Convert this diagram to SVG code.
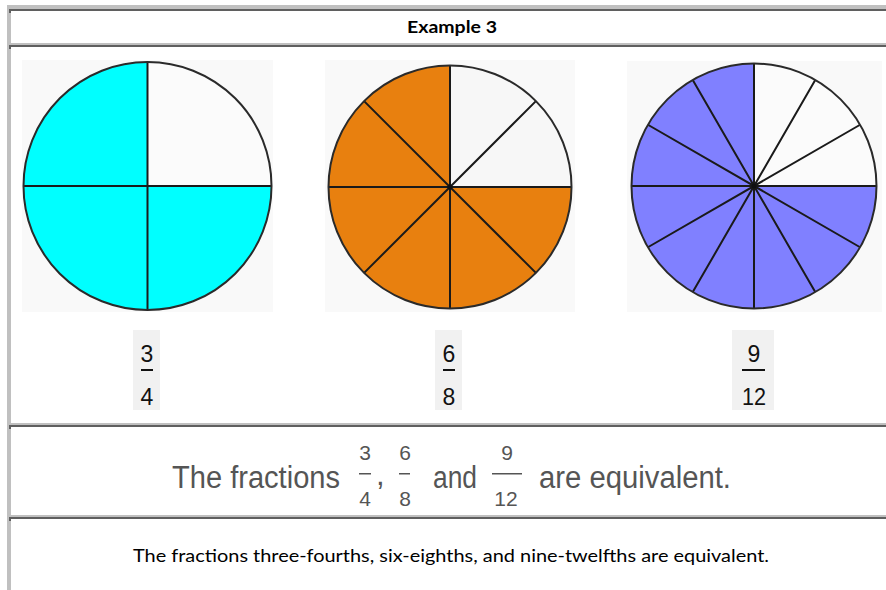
<svg xmlns="http://www.w3.org/2000/svg" width="886" height="590" viewBox="0 0 886 590">
<style>
.gray{fill:#c0c0c0}
.dark{fill:#5f5f5f}
.bg{fill:#f9f9f9}
.fbox{fill:#f1f1f1}
.ln{stroke:#1a1a1a;stroke-width:2;fill:none}
.rim{stroke:#2a2a2a;stroke-width:2;fill:none}
.title{font-family:Lato,"Open Sans","Liberation Sans",sans-serif;font-weight:bold;font-size:17px;fill:#000}
.frac{font-family:"Liberation Sans",sans-serif;font-size:23px;fill:#111}
.big{font-family:"Liberation Sans",sans-serif;font-size:31px;fill:#555}
.small{font-family:"Liberation Sans",sans-serif;font-size:21px;fill:#555}
.foot{font-family:Lato,"Open Sans","Liberation Sans",sans-serif;font-size:17.5px;fill:#000}
</style>
<rect width="886" height="590" fill="#fff"/>
<g id="table">
<rect class="gray" x="7" y="5" width="879" height="4"/>
<rect class="gray" x="7" y="5" width="4" height="585"/>
<rect class="dark" x="9" y="9" width="877" height="2"/>
<rect class="dark" x="9" y="9" width="2" height="4"/>
<rect class="gray" x="9" y="43" width="877" height="2"/>
<rect class="dark" x="9" y="45" width="877" height="2"/>
<rect class="dark" x="9" y="45" width="2" height="4"/>
<rect class="gray" x="9" y="423" width="877" height="2"/>
<rect class="dark" x="9" y="425" width="877" height="2"/>
<rect class="dark" x="9" y="425" width="2" height="4"/>
<rect class="gray" x="9" y="515" width="877" height="2"/>
<rect class="dark" x="9" y="517" width="877" height="2"/>
<rect class="dark" x="9" y="517" width="2" height="4"/>
</g>
<g id="title"><text class="title" x="452" y="33" text-anchor="middle" textLength="90" lengthAdjust="spacingAndGlyphs">Example 3</text></g>
<g id="circle-quarters">
<rect class="bg" x="22" y="60" width="251" height="252"/>
<circle cx="147.5" cy="186" r="124" fill="#00ffff"/>
<path d="M147.5,186 L147.5,62 A124,124 0 0 1 271.5,186 Z" fill="#fbfbfb"/>
<path class="ln" d="M147.5,62 V310 M23.5,186 H271.5"/>
<circle class="rim" cx="147.5" cy="186" r="124"/>
</g>
<g id="circle-eighths">
<rect class="bg" x="325" y="60" width="250" height="252"/>
<circle cx="450" cy="187" r="121.5" fill="#e8800f"/>
<path d="M450,187 L450,65.5 A121.5,121.5 0 0 1 571.5,187 Z" fill="#f7f7f7"/>
<path class="ln" d="M450,65.5 V308.5 M328.5,187 H571.5 M364.1,101.1 L535.9,272.9 M535.9,101.1 L364.1,272.9"/>
<circle cx="450" cy="187" r="2.5" fill="#111"/>
<circle class="rim" cx="450" cy="187" r="121.5"/>
</g>
<g id="circle-twelfths">
<rect class="bg" x="627" y="61" width="255" height="251"/>
<circle cx="754" cy="186" r="122.5" fill="#8080ff"/>
<path d="M754,186 L754,63.5 A122.5,122.5 0 0 1 876.5,186 Z" fill="#fbfbfb"/>
<path class="ln" d="M754,63.5 V308.5 M631.5,186 H876.5 M815.25,79.9 L692.75,292.1 M860.1,124.75 L647.9,247.25 M692.75,79.9 L815.25,292.1 M647.9,124.75 L860.1,247.25"/>
<circle cx="754" cy="186" r="2.5" fill="#111"/>
<circle class="rim" cx="754" cy="186" r="122.5"/>
</g>
<g id="frac-3-4">
<rect class="fbox" x="133" y="330" width="27" height="80"/>
<text class="frac" x="147" y="362" text-anchor="middle">3</text>
<rect x="141" y="369" width="12" height="2" fill="#111"/>
<text class="frac" x="147" y="405" text-anchor="middle">4</text>
</g>
<g id="frac-6-8">
<rect class="fbox" x="435" y="330" width="27" height="80"/>
<text class="frac" x="449" y="362" text-anchor="middle">6</text>
<rect x="443" y="369" width="12" height="2" fill="#111"/>
<text class="frac" x="449" y="405" text-anchor="middle">8</text>
</g>
<g id="frac-9-12">
<rect class="fbox" x="732" y="330" width="42" height="80"/>
<text class="frac" x="754" y="362" text-anchor="middle">9</text>
<rect x="742" y="369" width="23" height="2" fill="#111"/>
<text class="frac" x="754" y="405" text-anchor="middle" textLength="24" lengthAdjust="spacingAndGlyphs">12</text>
</g>
<g id="equivalence-line">
<text class="big" x="172" y="488" textLength="168" lengthAdjust="spacingAndGlyphs">The fractions</text>
<text class="small" x="365" y="460" text-anchor="middle">3</text>
<rect x="359" y="473" width="12" height="1.5" fill="#555"/>
<text class="small" x="365" y="506" text-anchor="middle">4</text>
<text class="big" x="376" y="485" font-size="20">,</text>
<text class="small" x="405" y="460" text-anchor="middle">6</text>
<rect x="399" y="473" width="11" height="1.5" fill="#555"/>
<text class="small" x="405" y="506" text-anchor="middle">8</text>
<text class="big" x="433" y="488" textLength="44" lengthAdjust="spacingAndGlyphs">and</text>
<text class="small" x="507" y="460" text-anchor="middle">9</text>
<rect x="492" y="473" width="30" height="1.5" fill="#555"/>
<text class="small" x="506" y="506" text-anchor="middle">12</text>
<text class="big" x="539" y="488" textLength="192" lengthAdjust="spacingAndGlyphs">are equivalent.</text>
</g>
<g id="footer"><text class="foot" x="451" y="562" text-anchor="middle" textLength="636" lengthAdjust="spacingAndGlyphs">The fractions three-fourths, six-eighths, and nine-twelfths are equivalent.</text></g>
</svg>
